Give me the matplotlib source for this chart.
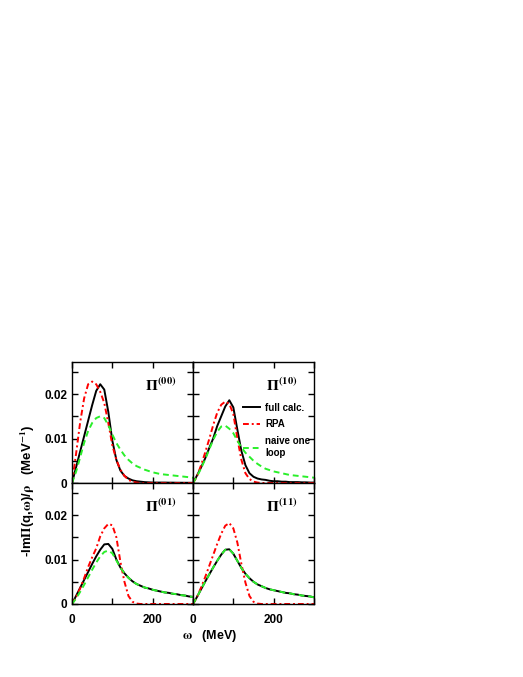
import matplotlib
matplotlib.use("Agg")
import matplotlib.pyplot as plt
import numpy as np

plt.rcParams['font.family'] = ['Liberation Sans', 'DejaVu Sans']
plt.rcParams['font.weight'] = 'bold'
plt.rcParams['mathtext.fontset'] = 'stix'

# omega grid (MeV)
omega = np.arange(0, 301, 10)

# panel (00)
full_00 = [0, 0.0035, 0.0070, 0.0105, 0.0140, 0.0175, 0.0207, 0.0222, 0.0210, 0.0160,
           0.0095, 0.0052, 0.0028, 0.0016, 0.0010, 0.0006, 0.0004, 0.0003, 0.0002, 0.00015,
           0.0001, 0.0001, 0.0001, 0.0001, 0.00008, 0.00008, 0.00006, 0.00006, 0.00005, 0.00005, 0.00005]
rpa_00 = [0, 0.0065, 0.0135, 0.0190, 0.0222, 0.0228, 0.0222, 0.0205, 0.0180, 0.0135,
          0.0085, 0.0052, 0.0030, 0.0016, 0.0007, 0.0003, 0.0001, 0, 0, 0,
          0, 0, 0, 0, 0, 0, 0, 0, 0, 0, 0]
naive_00 = [0, 0.0025, 0.0057, 0.0090, 0.0117, 0.0135, 0.0146, 0.0150, 0.0146, 0.0130,
            0.0109, 0.0090, 0.0075, 0.0062, 0.0052, 0.0044, 0.0038, 0.0034, 0.0030, 0.0027,
            0.0024, 0.0022, 0.0020, 0.0019, 0.0018, 0.0017, 0.0016, 0.0015, 0.0014, 0.0013, 0.0012]

# panel (10)
full_10 = [0, 0.0017, 0.0035, 0.0055, 0.0078, 0.0100, 0.0128, 0.0150, 0.0172, 0.0186,
           0.0170, 0.0120, 0.0072, 0.0040, 0.0022, 0.0014, 0.0010, 0.0008, 0.0007, 0.0005,
           0.0004, 0.0004, 0.0003, 0.0003, 0.0002, 0.0002, 0.0002, 0.00015, 0.00015, 0.0001, 0.0001]
rpa_10 = [0, 0.0015, 0.0040, 0.0068, 0.0098, 0.0130, 0.0158, 0.0176, 0.0183, 0.0178,
          0.0155, 0.0100, 0.0052, 0.0022, 0.0009, 0.0003, 0.0001, 0, 0, 0,
          0, 0, 0, 0, 0, 0, 0, 0, 0, 0, 0]
naive_10 = [0, 0.0015, 0.0033, 0.0053, 0.0075, 0.0097, 0.0115, 0.0127, 0.0129, 0.0122,
            0.0112, 0.0095, 0.0080, 0.0068, 0.0059, 0.0050, 0.0043, 0.0037, 0.0032, 0.0029,
            0.0026, 0.0024, 0.0022, 0.0020, 0.0018, 0.0017, 0.0016, 0.0015, 0.0014, 0.0013, 0.0012]

# panel (01)
full_01 = [0, 0.0018, 0.0036, 0.0054, 0.0072, 0.0090, 0.0107, 0.0122, 0.0134, 0.0135,
           0.0124, 0.0100, 0.0082, 0.0069, 0.0059, 0.0051, 0.0045, 0.0041, 0.0037, 0.0035,
           0.0032, 0.0030, 0.0028, 0.0026, 0.0025, 0.0023, 0.0022, 0.0020, 0.0019, 0.0017, 0.0016]
rpa_01 = [0, 0.0015, 0.0035, 0.0058, 0.0083, 0.0105, 0.0125, 0.0152, 0.0170, 0.0180,
          0.0177, 0.0150, 0.0095, 0.0050, 0.0018, 0.0005, 0.0001, 0, 0, 0,
          0, 0, 0, 0, 0, 0, 0, 0, 0, 0, 0]
naive_01 = [0, 0.0012, 0.0027, 0.0043, 0.0060, 0.0077, 0.0093, 0.0107, 0.0117, 0.0120,
            0.0114, 0.0098, 0.0082, 0.0069, 0.0059, 0.0051, 0.0045, 0.0041, 0.0037, 0.0035,
            0.0032, 0.0030, 0.0028, 0.0026, 0.0025, 0.0023, 0.0022, 0.0020, 0.0019, 0.0017, 0.0016]

# panel (11)
full_11 = [0, 0.0016, 0.0033, 0.0050, 0.0066, 0.0082, 0.0097, 0.0111, 0.0122, 0.0123,
           0.0113, 0.0097, 0.0081, 0.0068, 0.0058, 0.0050, 0.0044, 0.0040, 0.0036, 0.0033,
           0.0031, 0.0029, 0.0027, 0.0025, 0.0024, 0.0022, 0.0021, 0.0019, 0.0018, 0.0017, 0.0015]
rpa_11 = [0, 0.0016, 0.0037, 0.0060, 0.0085, 0.0110, 0.0135, 0.0158, 0.0176, 0.0182,
          0.0170, 0.0138, 0.0090, 0.0048, 0.0018, 0.0005, 0.0001, 0, 0, 0,
          0, 0, 0, 0, 0, 0, 0, 0, 0, 0, 0]
naive_11 = full_11

panels = [
    ("(00)", full_00, rpa_00, naive_00),
    ("(10)", full_10, rpa_10, naive_10),
    ("(01)", full_01, rpa_01, naive_01),
    ("(11)", full_11, rpa_11, naive_11),
]

fig = plt.figure(figsize=(5.23, 6.77), dpi=100)
x0, y0, w, h = 72/523, 1-604/677, 121/523, 121/677
positions = [(x0, y0+h), (x0+w, y0+h), (x0, y0), (x0+w, y0)]

axes = []
for i, (name, full, rpa, naive) in enumerate(panels):
    ax = fig.add_axes([positions[i][0], positions[i][1], w, h])
    ax.plot(omega, full, color='black', lw=1.4, label='full calc.')
    ax.plot(omega, rpa, color='red', lw=1.4, dashes=(3, 1.5, 1, 1.5), label='RPA')
    ax.plot(omega, naive, color='#2aef2a', lw=1.4, dashes=(3, 2), label='naive one\nloop')
    ax.set_xlim(0, 300)
    ax.set_ylim(0, 0.0272)
    ax.set_xticks([0, 100, 200, 300])
    ax.set_yticks([0, 0.005, 0.01, 0.015, 0.02, 0.025])
    ax.tick_params(direction='in', top=True, right=True, length=4, width=1, labelsize=8.5)
    ax.tick_params(axis='x', pad=7)
    for s in ax.spines.values():
        s.set_linewidth(1)
    if i in (0, 2):
        ax.set_yticklabels(['0', '', '0.01', '', '0.02', ''])
    else:
        ax.set_yticklabels([])
    if i in (2, 3):
        ax.set_xticklabels(['0', '', '200', ''])
    else:
        ax.set_xticklabels([])
    ax.text(0.6, 0.81, r'$\mathrm{\Pi}^{\mathbf{' + name + '}}$', transform=ax.transAxes,
            fontsize=11, fontweight='normal', ha='left', va='center')
    axes.append(ax)

axes[1].legend(loc='upper left', bbox_to_anchor=(0.41, 0.665), frameon=False,
               fontsize=7, handlelength=1.8, handletextpad=0.5, labelspacing=0.7,
               borderpad=0, borderaxespad=0)

fig.text(0.053, 1-491/677, r'-Im$\mathrm{\Pi}$(q,$\mathrm{\omega}$)/$\mathrm{\rho}$   (MeV$^{\mathbf{-1}}$)',
         rotation=90, ha='center', va='center', fontsize=9.5, fontweight='bold')
fig.text(210/523, 1-636/677, r'$\mathrm{\omega}$   (MeV)', ha='center', va='center',
         fontsize=9, fontweight='bold')

fig.savefig('out.png', dpi=100)
